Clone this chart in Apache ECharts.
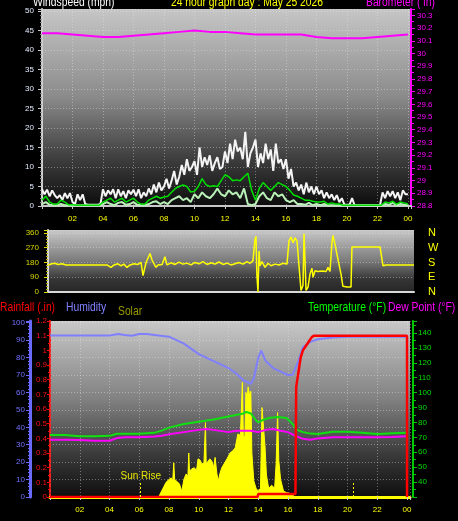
<!DOCTYPE html>
<html>
<head>
<meta charset="utf-8">
<style>
  html, body { margin: 0; padding: 0; background: #000; }
  #chart { width: 458px; height: 521px; }
</style>
<script src="https://cdn.jsdelivr.net/npm/echarts@6/dist/echarts.min.js"></script>
</head>
<body>
<div id="chart"></div>
<script>
// gusts every 10 minutes, lull / average every 15 minutes, hour 0 .. 24
const gustTimes = []
for (let i = 0; i <= 144; i++) gustTimes.push(i / 6)
const windTimes = []
for (let i = 0; i <= 96; i++) windTimes.push(i / 4)

const windGust = [4.3, 3.0, 4.2, 2.5, 4.0, 2.8, 2.0, 2.8, 1.5, 3.3, 2.0, 3.3,
  1.0, 0.5, 3.0, 1.5, 3.0, 0.5, 0.3, 0.3, 0.3, 0.3, 0.3, 0.5,
  4.3, 2.5, 4.0, 3.0, 4.3, 2.0, 4.3, 2.5, 3.8, 2.0, 4.0, 3.0,
  4.2, 2.5, 4.3, 2.0, 3.5, 2.5, 4.5, 3.0, 5.5, 3.5, 6.0, 4.0,
  5.0, 7.0, 4.5, 6.5, 9.0, 5.5, 7.5, 10.5, 8.0, 12.0, 9.0, 10.0,
  11.5, 8.0, 15.0, 10.0, 12.5, 10.5, 13.0, 9.0, 11.0, 12.5, 9.5, 10.0,
  14.0, 11.0, 16.0, 12.0, 17.0, 14.0, 15.0, 12.0, 19.0, 10.0, 13.5, 15.0,
  17.0, 10.0, 13.5, 11.0, 16.0, 12.0, 14.5, 9.0, 16.0, 11.0, 12.0, 9.5,
  12.0, 7.0, 9.5, 5.0, 6.0, 4.0, 5.5, 3.0, 6.0, 3.5, 5.0, 3.0,
  5.0, 3.0, 4.0, 2.0, 3.5, 2.0, 3.0, 1.5, 2.8, 1.0, 2.0, 0.3,
  0.3, 0.3, 2.0, 0.2, 0.2, 0.2, 0.2, 0.2, 0.2, 0.2, 0.2, 0.2,
  0.2, 0.2, 3.5, 2.0, 3.8, 2.5, 3.8, 2.0, 3.5, 1.5, 4.0, 3.0, 3.0]

const windLull = [0.5, 1.0, 0.3, 0.2, 0.2, 0.5, 0.2, 0.2, 0.2, 0.2, 0.2, 0.2, 0.2, 0.2, 0.2, 0.2,
  0.5, 1.0, 0.5, 0.2, 0.8, 1.0, 0.3, 0.5, 1.0, 0.3, 0.2, 0.2, 0.5, 1.0, 1.2, 0.5,
  1.0, 0.5, 1.5, 2.0, 2.5, 1.5, 2.0, 1.0, 3.0, 2.0, 3.5, 2.5, 2.0, 3.0, 4.5, 3.0,
  2.5, 4.0, 3.0, 3.5, 2.0, 4.5, 0.5, 0.2, 0.5, 2.5, 3.5, 2.0, 1.5, 3.5, 2.5, 3.0,
  1.5, 1.0, 1.5, 0.5, 0.5, 0.3, 0.8, 0.2, 0.5, 0.2, 0.5, 0.2, 0.2, 0.2, 0.2, 0.2,
  0.2, 0.2, 0.2, 0.2, 0.2, 0.2, 0.2, 0.2, 0.2, 0.2, 0.5, 0.3, 0.8, 0.2, 0.5, 0.3, 0.2]

const windAvg = [1.5, 2.5, 1.0, 0.5, 0.5, 1.5, 1.0, 0.3, 0.3, 0.2, 0.2, 0.2, 0.2, 0.2, 0.2, 0.2,
  1.0, 1.5, 2.0, 1.0, 1.5, 2.0, 1.0, 1.5, 2.0, 1.0, 0.5, 0.5, 1.5, 2.0, 2.5, 2.0,
  2.3, 2.5, 3.5, 4.5, 5.0, 5.4, 5.0, 3.6, 3.8, 5.0, 7.0, 5.5, 5.0, 5.2, 5.0, 6.5,
  8.0, 7.5, 6.5, 6.7, 6.5, 7.5, 8.4, 4.0, 1.5, 4.5, 6.0, 5.0, 4.0, 5.0, 6.0, 5.5,
  5.0, 4.0, 2.8, 2.5, 2.0, 1.5, 1.5, 1.2, 1.0, 1.0, 1.2, 0.5, 0.8, 0.5, 0.5, 0.2,
  0.2, 0.2, 0.2, 0.2, 0.2, 0.2, 0.2, 0.2, 0.2, 0.2, 1.0, 0.8, 1.2, 0.5, 1.0, 0.8, 0.5]

// barometer, hourly
const baroHours = [0, 1, 2, 3, 4, 5, 6, 7, 8, 9, 10, 11, 12, 13, 14, 15, 16, 17, 18, 19, 20, 21, 22, 23, 24]
const baroValues = [30.16, 30.16, 30.15, 30.14, 30.13, 30.13, 30.14, 30.15, 30.16, 30.17, 30.18, 30.17, 30.17,
  30.16, 30.15, 30.15, 30.15, 30.15, 30.13, 30.12, 30.12, 30.12, 30.13, 30.14, 30.15]

// wind direction (degrees)
const dirHours = [0, 0.26, 0.46, 0.66, 0.92, 1.18, 3.87, 4.0, 4.13, 4.33, 4.59, 4.79, 4.98, 5.18, 5.38, 5.64, 5.9,
  6.1, 6.23, 6.36, 6.43, 6.56, 6.69, 6.82, 6.95, 7.08, 7.21, 7.48, 7.67, 7.8, 8.07, 8.33, 8.59, 8.85, 9.11,
  9.38, 9.64, 9.9, 10.16, 10.43, 10.69, 10.95, 11.21, 11.48, 11.74, 12.0, 12.26, 12.52, 12.79, 13.05, 13.25,
  13.44, 13.57, 13.64, 13.7, 13.77, 13.84, 13.9, 14.03, 14.23, 14.43, 14.62, 14.89, 15.15, 15.41, 15.67, 15.8,
  15.93, 16.07, 16.2, 16.33, 16.46, 16.59, 16.72, 16.79, 16.85, 16.92, 17.05, 17.18, 17.31, 17.38, 17.51, 17.7,
  17.97, 18.23, 18.36, 18.49, 18.62, 18.69, 18.82, 18.95, 19.08, 19.21, 19.34, 19.61, 19.87, 19.93, 21.77,
  21.97, 22.16, 24]
const dirValues = [165, 172, 175, 168, 172, 165, 165, 175, 150, 165, 172, 160, 170, 150, 165, 172, 168,
  180, 100, 95, 180, 175, 235, 195, 200, 150, 165, 168, 215, 165, 178, 168, 182, 170, 176,
  165, 180, 172, 185, 168, 178, 170, 183, 168, 176, 165, 172, 180, 170, 185, 175,
  190, 320, 340, 100, 0, 250, 160, 185, 150, 175, 160, 170, 165, 175, 170, 310,
  335, 300, 330, 310, 320, 10, 40, 355, 200, 10, 30, 110, 145, 90, 130, 125,
  128, 125, 150, 125, 300, 345, 290, 295, 170, 110, 35, 30, 30, 275, 275,
  160, 165, 165]
const compassNames = { 0: 'N', 90: 'E', 180: 'S', 270: 'W', 360: 'N' }

// lower panel
const humHours = [0, 2, 4, 4.6, 5, 5.5, 6, 6.5, 7, 8, 9, 10, 11, 12, 12.5, 13, 13.5, 13.7, 14, 14.2,
  14.5, 15, 15.5, 16, 16.3, 16.7, 17, 17.5, 18, 19, 20, 22, 24]
const humValues = [92.7, 92.7, 92.7, 93.5, 93, 92.5, 93.5, 93.5, 93, 92, 88, 82, 78, 74, 71, 67, 65, 68, 80, 84,
  78, 74, 72, 70, 70, 78, 86, 89, 90.5, 91.5, 92, 92, 92]

const tempHours = [0, 1, 2, 3, 4, 4.5, 6, 7, 7.5, 8, 9, 10, 11, 12, 13, 13.2, 13.5, 13.8, 14, 14.3,
  14.7, 15.3, 15.9, 16.3, 16.6, 17, 17.5, 18, 19, 20, 21, 22, 23, 24]
const tempValues = [71.5, 71.5, 70.7, 70.7, 71, 72.4, 72.4, 73, 74.5, 76.5, 79, 80.5, 82, 84, 86, 87, 86, 82, 80, 81.6,
  83, 83.6, 83, 79, 75, 73.5, 72.5, 72.2, 73.8, 73.8, 73, 72.2, 72.8, 73]

const dewHours = [0, 1, 2, 3, 4, 4.5, 5, 6, 7, 7.5, 8, 9, 10, 10.5, 11, 12, 12.5, 13, 13.5, 14,
  14.5, 15, 15.5, 16, 16.5, 17, 17.5, 18, 19, 20, 21, 22, 23, 24]
const dewValues = [68.4, 68.4, 68.2, 67.7, 67.7, 69.5, 70, 70, 70.5, 71, 72, 73.5, 75, 75.6, 75, 73.5, 74.4, 74.4, 74.4, 73.5,
  75, 75.6, 74.4, 73.5, 71, 69, 68.4, 69.3, 70, 70, 70, 70, 70.2, 70.7]

const rainHours = [0, 13.95, 14.0, 16.5, 16.55, 16.7, 16.85, 17.0, 17.2, 17.4, 17.6, 17.75, 24, 24]
const rainValues = [0, 0, 0.02, 0.02, 0.75, 0.85, 0.95, 1.0, 1.03, 1.06, 1.09, 1.1, 1.1, 0]

const solarHours = [0, 7.3, 7.4, 7.6, 7.8, 8.0, 8.15, 8.25, 8.32, 8.38, 8.5, 8.7, 8.86, 9.0, 9.15, 9.27, 9.33, 9.38, 9.5, 9.7,
  9.85, 9.95, 10.1, 10.2, 10.35, 10.45, 10.5, 10.6, 10.75, 10.9, 11.0, 11.1, 11.22, 11.32, 11.42, 11.55, 11.7, 11.9, 12.1, 12.29,
  12.45, 12.63, 12.8, 12.93, 13.0, 13.1, 13.17, 13.24, 13.32, 13.42, 13.5, 13.57, 13.7, 13.85, 14.0, 14.15, 14.25, 14.32, 14.45, 14.55,
  14.7, 14.9, 15.1, 15.2, 15.3, 15.38, 15.5, 15.7, 15.9, 16.1, 16.3, 16.45, 24]
const solarValues = [0, 0, 20, 60, 100, 120, 130, 110, 233, 120, 110, 90, 40, 120, 157, 140, 300, 170, 190, 200,
  180, 260, 250, 226, 230, 507, 226, 220, 260, 240, 200, 270, 157, 110, 160, 200, 226, 260, 300, 315,
  336, 430, 420, 782, 405, 420, 713, 660, 750, 690, 720, 300, 110, 60, 40, 60, 610, 600, 350, 150,
  60, 80, 60, 226, 576, 250, 120, 40, 30, 25, 15, 0, 0]

const sunRise = 6.1
const sunSet = 20.37

const sans = '"Liberation Sans", Arial, sans-serif'

function pairs(xs, ys) {
  return xs.map((x, i) => [x, ys[i]])
}

function hourLabel(v) {
  if (v <= 0 || v > 24 || v % 2 !== 0) return ''
  return String(v % 24).padStart(2, '0')
}

function panelFill(stops) {
  return new echarts.graphic.LinearGradient(0, 0, 0, 1, stops.map(s => ({ offset: s[0], color: s[1] })))
}

// header texts are a narrow, tall face in the original, so squeeze them a bit
function headText(text, x, y, color, align) {
  return {
    type: 'text', x: x, y: y, scaleX: 0.86, silent: true,
    style: { text: text, fill: color, fontSize: 12, fontFamily: sans, align: align || 'left', verticalAlign: 'middle' }
  }
}

const dotted = { color: 'rgba(235,235,235,0.4)', type: [1, 2], width: 1 }
const tickFont = { fontSize: 8, fontFamily: sans }

const chart = echarts.init(document.getElementById('chart'))

chart.setOption({
  backgroundColor: '#000',
  animation: false,
  graphic: [
    headText('Windspeed (mph)', 33, 3, '#ffffff'),
    headText('24 hour graph day : May 25 2026', 247, 3, '#ffff00', 'center'),
    headText('Barometer ( in)', 366, 3, '#ff00ff'),
    headText('Rainfall (.in)', 0, 308, '#ff0000'),
    headText('Humidity', 66, 308, '#8080ff'),
    headText('Solar', 118, 312, '#9a9a00'),
    headText('Temperature (°F)', 308, 308, '#00ff00'),
    headText('Dew Point (°F)', 388, 308, '#ff00ff')
  ],
  grid: [
    { left: 42, right: 47, top: 9, height: 197, show: true, borderWidth: 0,
      backgroundColor: panelFill([[0, '#c6c6c6'], [0.45, '#8a8a8a'], [0.75, '#404040'], [1, '#0c0c0c']]) },
    { left: 48, right: 44, top: 230, height: 62, show: true, borderWidth: 0,
      backgroundColor: panelFill([[0, '#c8c8c8'], [0.5, '#7a7a7a'], [0.8, '#353535'], [1, '#262626']]) },
    { left: 50, right: 48, top: 321, height: 176, show: true, borderWidth: 0,
      backgroundColor: panelFill([[0, '#c8c8c8'], [0.45, '#808080'], [0.75, '#3c3c3c'], [1, '#0e0e0e']]) }
  ],
  xAxis: [
    { gridIndex: 0, type: 'value', min: 0, max: 24.2, interval: 2,
      axisLine: { lineStyle: { color: '#c8c8c8', width: 2 } },
      axisTick: { show: true, length: 3, lineStyle: { color: '#c8c8c8' } },
      axisLabel: Object.assign({ color: '#ffff00', margin: 9, formatter: hourLabel }, tickFont),
      splitLine: { show: true, lineStyle: dotted } },
    { gridIndex: 1, type: 'value', min: 0, max: 24, offset: 1,
      axisLine: { lineStyle: { color: '#d8d8d8', width: 2 } },
      axisTick: { show: false }, axisLabel: { show: false }, splitLine: { show: false } },
    { gridIndex: 2, type: 'value', min: 0, max: 24.2, interval: 2, offset: 1,
      axisLine: { lineStyle: { color: '#ffff00', width: 3 } },
      axisTick: { show: true, length: 3, lineStyle: { color: '#c8c8c8' } },
      axisLabel: Object.assign({ color: '#ffff00', margin: 8, formatter: hourLabel }, tickFont),
      splitLine: { show: true, lineStyle: dotted } }
  ],
  yAxis: [
    { gridIndex: 0, type: 'value', position: 'left', min: 0, max: 50.5, interval: 5,
      axisLine: { show: true, lineStyle: { color: '#d0d0d0', width: 2 } },
      axisTick: { show: true, length: 4, lineStyle: { color: '#c8c8c8' } },
      minorTick: { show: true, splitNumber: 5, length: 2, lineStyle: { color: '#909090' } },
      axisLabel: Object.assign({ color: '#e4ecff', margin: 8, showMaxLabel: false }, tickFont),
      splitLine: { show: true, lineStyle: dotted } },
    { gridIndex: 0, type: 'value', position: 'right', min: 28.8, max: 30.35, interval: 0.1,
      axisLine: { show: true, lineStyle: { color: '#ff00ff', width: 2 } },
      axisTick: { show: true, length: 4, lineStyle: { color: '#ff00ff' } },
      minorTick: { show: true, splitNumber: 2, length: 3, lineStyle: { color: '#ff00ff' } },
      axisLabel: Object.assign({ color: '#ff00ff', margin: 6, showMaxLabel: false }, tickFont),
      splitLine: { show: false } },
    { gridIndex: 1, type: 'value', position: 'left', min: 0, max: 378, interval: 90,
      axisLine: { show: true, lineStyle: { color: '#d8d8d8', width: 2 } },
      axisTick: { show: true, length: 4, lineStyle: { color: '#d8d800' } },
      minorTick: { show: true, splitNumber: 5, length: 2, lineStyle: { color: '#b0b000' } },
      axisLabel: Object.assign({ color: '#d8d800', margin: 9, showMaxLabel: false }, tickFont),
      splitLine: { show: true, lineStyle: dotted } },
    { gridIndex: 1, type: 'value', position: 'right', min: 0, max: 378, interval: 90,
      axisLine: { show: false }, axisTick: { show: false }, splitLine: { show: false },
      axisLabel: { color: '#ffff00', fontSize: 11, fontFamily: sans, margin: 14, showMaxLabel: false,
        formatter: v => compassNames[v] || '' } },
    { gridIndex: 2, type: 'value', position: 'left', min: 0, max: 1.2, interval: 0.1,
      axisLine: { show: true, lineStyle: { color: '#ff2020', width: 2, type: [3, 2] } },
      axisTick: { show: true, length: 3, lineStyle: { color: '#ff0000' } },
      minorTick: { show: true, splitNumber: 2, length: 2, lineStyle: { color: '#ff0000' } },
      axisLabel: Object.assign({ color: '#ff1010', margin: 3 }, tickFont),
      splitLine: { show: false } },
    { gridIndex: 2, type: 'value', position: 'left', offset: 20, min: 0, max: 101, interval: 10,
      axisLine: { show: true, lineStyle: { color: '#6a6aff', width: 3 } },
      axisTick: { show: true, length: 4, lineStyle: { color: '#6a6aff' } },
      minorTick: { show: true, splitNumber: 5, length: 2, lineStyle: { color: '#6a6aff' } },
      axisLabel: Object.assign({ color: '#7070ff', margin: 5, showMaxLabel: false }, tickFont),
      splitLine: { show: true, lineStyle: dotted } },
    { gridIndex: 2, type: 'value', position: 'right', offset: 3, min: 30, max: 148, interval: 10,
      axisLine: { show: true, lineStyle: { color: '#00c800', width: 2 } },
      axisTick: { show: true, length: 4, lineStyle: { color: '#00c800' } },
      minorTick: { show: true, splitNumber: 2, length: 3, lineStyle: { color: '#00c800' } },
      axisLabel: Object.assign({ color: '#00dd00', margin: 5, showMinLabel: false, showMaxLabel: false }, tickFont),
      splitLine: { show: false } },
    { gridIndex: 2, type: 'value', min: 0, max: 1200, show: false }
  ],
  series: [
    { name: 'Gust', type: 'line', xAxisIndex: 0, yAxisIndex: 0, symbol: 'none',
      data: pairs(gustTimes, windGust), lineStyle: { color: '#f4f4f4', width: 2 } },
    { name: 'Lull', type: 'line', xAxisIndex: 0, yAxisIndex: 0, symbol: 'none',
      data: pairs(windTimes, windLull), lineStyle: { color: '#b8f0b8', width: 2 } },
    { name: 'Average', type: 'line', xAxisIndex: 0, yAxisIndex: 0, symbol: 'none',
      data: pairs(windTimes, windAvg), lineStyle: { color: '#00e000', width: 1.5 } },
    { name: 'Barometer', type: 'line', xAxisIndex: 0, yAxisIndex: 1, symbol: 'none',
      data: pairs(baroHours, baroValues), lineStyle: { color: '#ff00ff', width: 2 } },
    { name: 'Direction', type: 'line', xAxisIndex: 1, yAxisIndex: 2, symbol: 'none',
      data: pairs(dirHours, dirValues), lineStyle: { color: '#ffff00', width: 1.5 } },
    { name: 'Solar', type: 'line', xAxisIndex: 2, yAxisIndex: 7, symbol: 'none',
      data: pairs(solarHours, solarValues),
      lineStyle: { color: '#ffff00', width: 1 }, areaStyle: { color: '#ffff00', opacity: 1 },
      markLine: {
        silent: true, symbol: 'none', animation: false,
        lineStyle: { color: '#ffff00', type: [2, 2], width: 1 },
        label: { show: false },
        data: [
          [{ coord: [sunRise, 0], label: { show: true, position: 'end', formatter: 'Sun Rise', color: '#e8e800', fontSize: 10, fontFamily: sans, distance: 2 } },
            { coord: [sunRise, 95] }],
          [{ coord: [sunSet, 0] }, { coord: [sunSet, 95] }]
        ]
      } },
    { name: 'Humidity', type: 'line', xAxisIndex: 2, yAxisIndex: 5, symbol: 'none',
      data: pairs(humHours, humValues), lineStyle: { color: '#8080ff', width: 2 } },
    { name: 'Temperature', type: 'line', xAxisIndex: 2, yAxisIndex: 6, symbol: 'none',
      data: pairs(tempHours, tempValues), lineStyle: { color: '#10e010', width: 2 } },
    { name: 'Dew Point', type: 'line', xAxisIndex: 2, yAxisIndex: 6, symbol: 'none',
      data: pairs(dewHours, dewValues), lineStyle: { color: '#ff00ff', width: 2 } },
    { name: 'Rainfall', type: 'line', xAxisIndex: 2, yAxisIndex: 4, symbol: 'none',
      data: pairs(rainHours, rainValues), lineStyle: { color: '#ff0000', width: 2.5 } }
  ]
})
</script>
</body>
</html>
